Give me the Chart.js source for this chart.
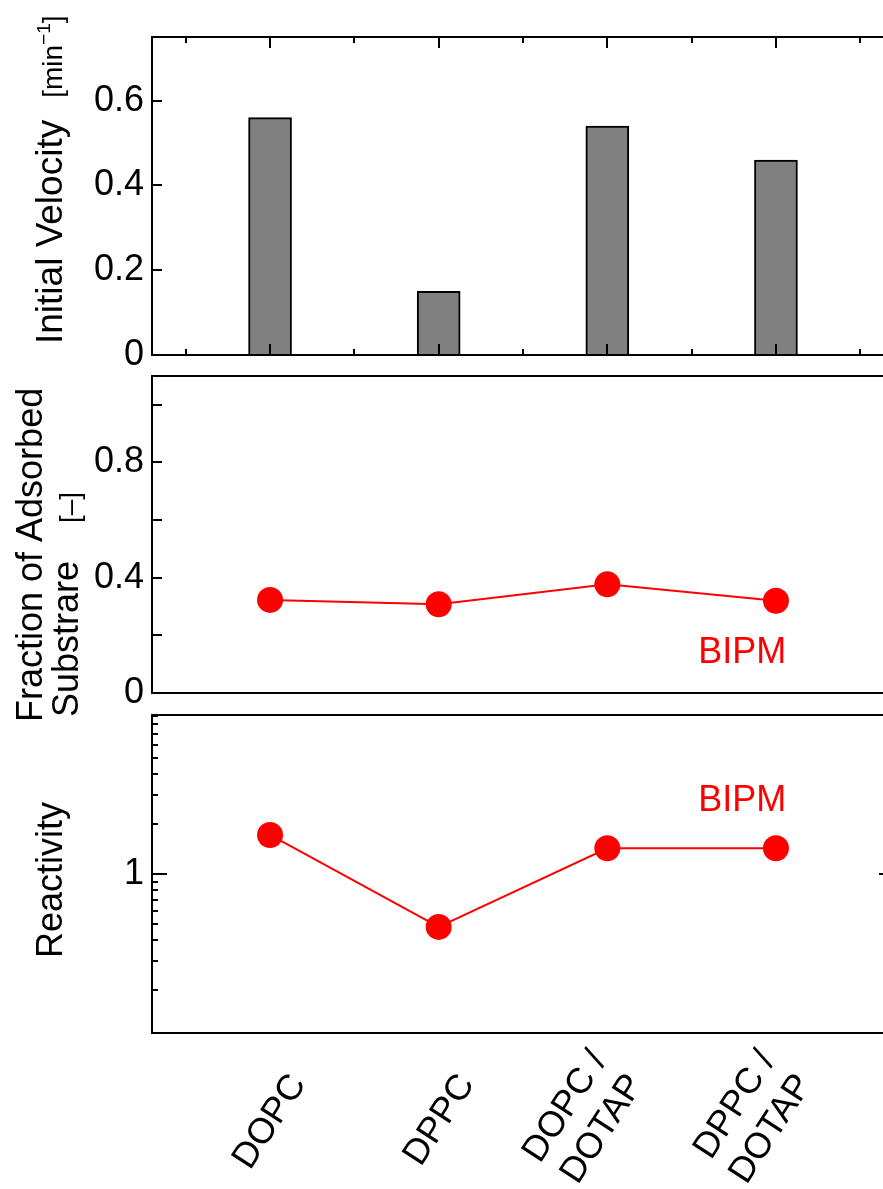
<!DOCTYPE html>
<html><head><meta charset="utf-8">
<script src="https://cdn.jsdelivr.net/npm/chart.js@4/dist/chart.umd.min.js"></script>
<style>
html,body{margin:0;padding:0;background:#fff;overflow:hidden;width:883px;height:1189px;}
#wrap{position:relative;width:883px;height:1189px;overflow:hidden;background:#fff;}
canvas{position:absolute;left:0;top:0;}
</style></head><body>
<div id="wrap">
<canvas id="c1" width="900" height="1189"></canvas>
<canvas id="c2" width="900" height="1189"></canvas>
<canvas id="c3" width="900" height="1189"></canvas>
</div>
<script>
// ---- data ----
const categories = [['DOPC'], ['DPPC'], ['DOPC /', 'DOTAP'], ['DPPC /', 'DOTAP']];
const categoryPositions = [1, 2, 3, 4];
const initialVelocity = [0.56, 0.15, 0.54, 0.46];
const adsorbedFraction = [0.323, 0.308, 0.377, 0.320];
const reactivity = [1.72, 0.48, 1.43, 1.43];
const seriesLabel = 'BIPM';
const velocityTickLabels = [0, 0.2, 0.4, 0.6];
const fractionTickLabels = [0, 0.4, 0.8];
const reactivityTickLabels = [1];
const xTickMarks = [0.5, 1, 1.5, 2, 2.5, 3, 3.5, 4, 4.5];

const FONT = "'Liberation Sans', Arial, Helvetica, sans-serif";
Chart.defaults.font.family = FONT;
Chart.defaults.color = '#000';
const RED = '#ff0000';
const X_MIN = 0.3, X_MAX = 4.7;

function near(a, b) { return Math.abs(a - b) < 1e-6; }
function fmt(v) { return near(v, 0) ? '0' : String(+v.toFixed(2)); }

function rotText(ctx, parts, x, y) {
  ctx.save();
  ctx.translate(x, y);
  ctx.rotate(-Math.PI / 2);
  ctx.textAlign = 'left';
  ctx.textBaseline = 'alphabetic';
  ctx.fillStyle = '#000';
  let cx = 0;
  parts.forEach(p => {
    ctx.font = p.size + 'px ' + FONT;
    cx += p.gap || 0;
    ctx.fillText(p.t, cx, p.dy || 0);
    cx += ctx.measureText(p.t).width;
  });
  ctx.restore();
}

function boxPlugin(cfg) {
  return {
    id: 'box_' + cfg.name,
    afterDatasetsDraw(chart) {
      const ctx = chart.ctx, a = chart.chartArea;
      const xs = chart.scales.x, ys = chart.scales.y;
      ctx.save();
      ctx.strokeStyle = '#000';
      ctx.lineWidth = 2;
      ctx.strokeRect(a.left, a.top, a.right - a.left, a.bottom - a.top);
      ctx.beginPath();
      ys.ticks.forEach(t => {
        const len = cfg.yLen(t.value);
        if (!len) return;
        const p = Math.round(ys.getPixelForValue(t.value));
        ctx.moveTo(a.left, p); ctx.lineTo(a.left + len, p);
        ctx.moveTo(a.right, p); ctx.lineTo(a.right - len, p);
      });
      if (cfg.xTicks) cfg.xTicks.forEach(v => {
        const len = Number.isInteger(v) ? 11 : 6;
        const p = Math.round(xs.getPixelForValue(v));
        ctx.moveTo(p, a.top); ctx.lineTo(p, a.top + len);
        ctx.moveTo(p, a.bottom); ctx.lineTo(p, a.bottom - len);
      });
      ctx.stroke();
      ctx.restore();
    },
    afterDraw(chart) { if (cfg.text) cfg.text(chart); }
  };
}

function yScale(extra) {
  return Object.assign({
    afterFit: s => { s.width = 152; },
    grid: { display: false, drawTicks: false },
    border: { display: false },
  }, extra);
}
function hiddenX() {
  return { type: 'linear', min: X_MIN, max: X_MAX, offset: false, display: false };
}
const baseOpts = {
  responsive: false, animation: false, devicePixelRatio: 1, events: [],
  plugins: { legend: { display: false }, tooltip: { enabled: false } }
};

// ---- panel 1: initial velocity (bars) ----
new Chart(document.getElementById('c1'), {
  type: 'bar',
  data: { datasets: [{
    data: categoryPositions.map((x, i) => ({ x, y: initialVelocity[i] })),
    backgroundColor: '#808080', borderColor: '#000', borderWidth: 2, barThickness: 43
  }]},
  options: Object.assign({}, baseOpts, {
    layout: { autoPadding: false, padding: { left: 0, right: 6, top: 37, bottom: 1189 - 355 } },
    scales: {
      x: hiddenX(),
      y: yScale({ min: 0, max: 0.75, ticks: { stepSize: 0.1, includeBounds: false, padding: 8,
        font: { size: 36 },
        callback: v => velocityTickLabels.some(t => near(t, v)) ? fmt(v) : '' } })
    }
  }),
  plugins: [boxPlugin({
    name: 'p1', xTicks: xTickMarks, yLen: v => 10,
    text: chart => rotText(chart.ctx, [
      { t: 'Initial Velocity', size: 37 },
      { t: '[min', size: 28, gap: 22 },
      { t: '\u22121', size: 19, dy: -12 },
      { t: ']', size: 28 }
    ], 62, 344)
  })]
});

// ---- panel 2: fraction of adsorbed substrate ----
new Chart(document.getElementById('c2'), {
  type: 'line',
  data: { datasets: [{
    label: seriesLabel,
    data: categoryPositions.map((x, i) => ({ x, y: adsorbedFraction[i] })),
    borderColor: RED, borderWidth: 2, backgroundColor: RED,
    pointRadius: 13, pointBorderWidth: 0, pointBackgroundColor: RED, clip: false
  }]},
  options: Object.assign({}, baseOpts, {
    layout: { autoPadding: false, padding: { left: 0, right: 6, top: 376, bottom: 1189 - 693 } },
    scales: {
      x: hiddenX(),
      y: yScale({ min: 0, max: 1.1, ticks: { stepSize: 0.1, includeBounds: false, padding: 8,
        font: { size: 36 },
        callback: v => fractionTickLabels.some(t => near(t, v)) ? fmt(v) : '' } })
    }
  }),
  plugins: [boxPlugin({
    name: 'p2', yLen: v => 10,
    text: chart => {
      const ctx = chart.ctx;
      rotText(ctx, [{ t: 'Fraction of Adsorbed', size: 36 }], 42, 722);
      rotText(ctx, [{ t: 'Substrare', size: 36 }], 78, 717);
      rotText(ctx, [{ t: '[\u2013]', size: 28 }], 79, 523);
      ctx.save();
      ctx.font = '36px ' + FONT; ctx.fillStyle = RED;
      ctx.textAlign = 'center'; ctx.textBaseline = 'alphabetic';
      ctx.fillText(seriesLabel, chart.scales.x.getPixelForValue(3.8), chart.chartArea.bottom - 30);
      ctx.restore();
    }
  })]
});

// ---- panel 3: reactivity (log) ----
new Chart(document.getElementById('c3'), {
  type: 'line',
  data: { datasets: [{
    label: seriesLabel,
    data: categoryPositions.map((x, i) => ({ x, y: reactivity[i] })),
    borderColor: RED, borderWidth: 2, backgroundColor: RED,
    pointRadius: 13, pointBorderWidth: 0, pointBackgroundColor: RED, clip: false
  }]},
  options: Object.assign({}, baseOpts, {
    layout: { autoPadding: false, padding: { left: 0, right: 6, top: 715, bottom: 6 } },
    scales: {
      x: {
        type: 'linear', min: X_MIN, max: X_MAX, offset: false, position: 'bottom',
        grid: { display: false, drawTicks: false }, border: { display: false },
        afterFit: s => { s.height = 150; },
        afterBuildTicks: s => { s.ticks = categoryPositions.map(v => ({ value: v })); },
        ticks: {
          autoSkip: false, minRotation: 57, maxRotation: 57, padding: 10, labelOffset: -8,
          font: { size: 36 },
          callback: v => {
            const i = categoryPositions.indexOf(v);
            if (i < 0) return '';
            const lab = categories[i];
            // single-line names are centred like the two-line ones
            return lab.length === 1 ? ['', lab[0]] : lab;
          }
        }
      },
      y: yScale({ type: 'logarithmic', min: 0.11, max: 9.1, ticks: { padding: 8, autoSkip: false,
        font: { size: 36 },
        callback: v => reactivityTickLabels.some(t => near(t, v)) ? fmt(v) : '' } })
    }
  }),
  plugins: [boxPlugin({
    name: 'p3',
    yLen: v => {
      if (near(v, 1)) return 15;
      const e = Math.floor(Math.log10(v) + 1e-9);
      const s = v / Math.pow(10, e);
      return near(s, Math.round(s)) ? 6 : 0;
    },
    text: chart => {
      const ctx = chart.ctx;
      rotText(ctx, [{ t: 'Reactivity', size: 36 }], 62, 958);
      ctx.save();
      ctx.font = '36px ' + FONT; ctx.fillStyle = RED;
      ctx.textAlign = 'center'; ctx.textBaseline = 'alphabetic';
      ctx.fillText(seriesLabel, chart.scales.x.getPixelForValue(3.8), chart.chartArea.top + 96);
      ctx.restore();
    }
  })]
});
</script>
</body></html>
